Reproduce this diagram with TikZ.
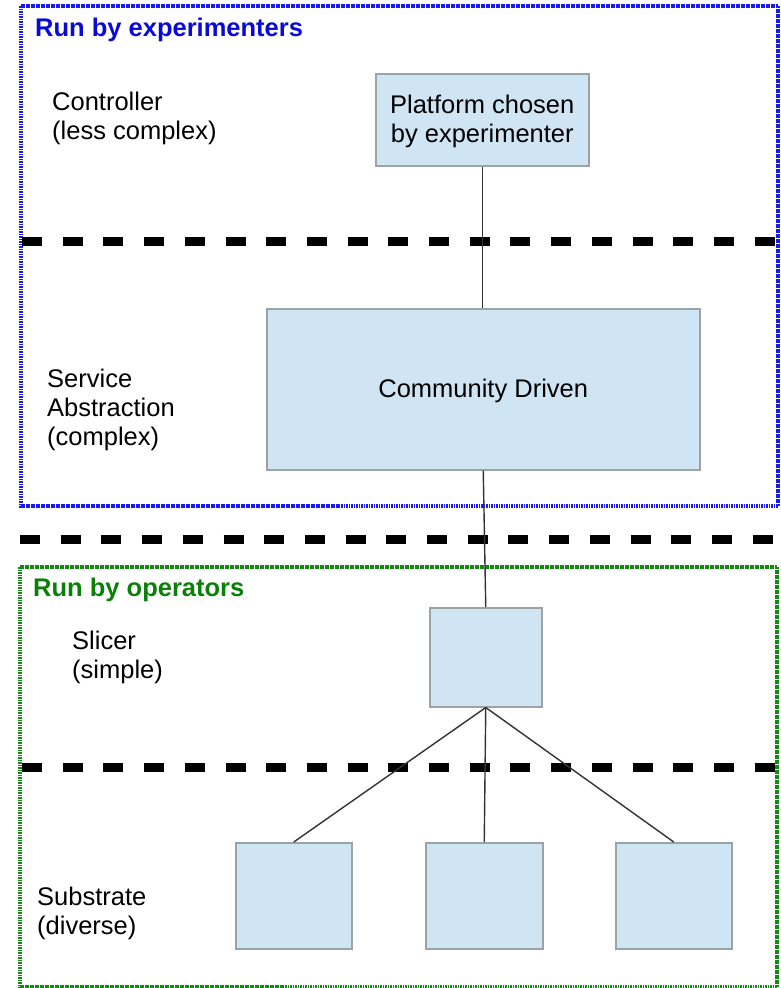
\documentclass[tikz,border=0pt]{standalone}
\usepackage{fontspec}
\setmainfont{Liberation Sans}
\begin{document}
\begin{tikzpicture}[x=1pt,y=-1pt,
  every node/.style={inner sep=0pt},
  txt/.style={font=\fontsize{25.5}{29}\selectfont, align=left, anchor=west},
  title/.style={font=\fontsize{25.5}{29}\selectfont\bfseries, anchor=west},
  box/.style={draw=boxline, fill=boxfill, line width=1.5pt, anchor=north west},
  link/.style={draw=linkgray, line width=1.4pt},
  layer/.style={line width=9pt, dash pattern=on 20pt off 20.7pt},
  expframe/.style={draw=frameblue, line width=3.2pt, dash pattern=on 1.6pt off 0.9pt},
  opframe/.style={draw=framegreen, line width=3.2pt, dash pattern=on 1.6pt off 0.9pt}]
\definecolor{boxfill}{HTML}{CFE5F3}
\definecolor{boxline}{HTML}{9CA2A6}
\definecolor{linkgray}{HTML}{333333}
\definecolor{frameblue}{HTML}{1A1AF0}
\definecolor{framegreen}{HTML}{138A13}
\definecolor{titleblue}{HTML}{0A0AD8}
\definecolor{titlegreen}{HTML}{0A800A}

\useasboundingbox (0,0) rectangle (780,988);

% ownership frames
\draw[expframe] (21,6) rectangle (778,506);
\draw[opframe] (20,567) rectangle (777,987);
\node[title, text=titleblue] (exptitle) at (35,30) {Run by experimenters};
\node[title, text=titlegreen] (optitle) at (33,590) {Run by operators};

% layer separators
\draw[layer] (22,241) -- (778,241);
\draw[layer] (20,539) -- (778,539);
\draw[layer] (22,767) -- (778,767);

% layer labels
\node[txt] (lctrl) at (52,118) {Controller\\(less complex)};
\node[txt] (lsvc) at (47,410) {Service\\Abstraction\\(complex)};
\node[txt] (lslicer) at (72,657) {Slicer\\(simple)};
\node[txt] (lsub) at (37,913) {Substrate\\(diverse)};

% boxes
\node[box, minimum width=213pt, minimum height=92pt] (platform) at (375,73) {};
\node[font=\fontsize{25.5}{29}\selectfont, align=center] at ([yshift=-2pt]platform.center) {Platform chosen\\by experimenter};
\node[box, minimum width=433pt, minimum height=161pt] (community) at (266,308) {};
\node[font=\fontsize{25.5}{29}\selectfont] at ([yshift=-2pt]community.center) {Community Driven};
\node[box, minimum width=112pt, minimum height=99pt] (slicer) at (429,607) {};
\node[box, minimum width=116pt, minimum height=106pt] (subA) at (235,842) {};
\node[box, minimum width=117pt, minimum height=106pt] (subB) at (425,842) {};
\node[box, minimum width=116pt, minimum height=106pt] (subC) at (615,842) {};

% connectors
\draw[link] (platform.south) -- (community.north -| platform.south);
\draw[link] (community.south) -- (slicer.north);
\draw[link] (slicer.south) -- (subA.north);
\draw[link] (slicer.south) -- (subB.north);
\draw[link] (slicer.south) -- (subC.north);
\end{tikzpicture}
\end{document}
